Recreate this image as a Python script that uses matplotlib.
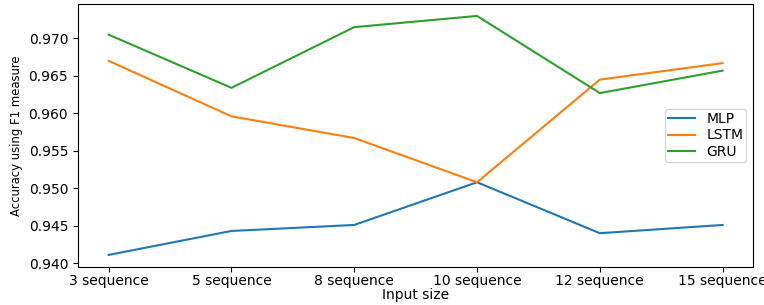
import matplotlib
matplotlib.use('Agg')
import matplotlib.pyplot as plt

# Input sizes on the x axis
sequences = ['3 sequence', '5 sequence', '8 sequence', '10 sequence', '12 sequence', '15 sequence']

# F1 accuracy for each model
mlp = [0.9411, 0.9443, 0.9451, 0.9508, 0.9440, 0.9451]
lstm = [0.9670, 0.9596, 0.9567, 0.9508, 0.9645, 0.9667]
gru = [0.9705, 0.9634, 0.9715, 0.9730, 0.9627, 0.9657]

fig, ax = plt.subplots(figsize=(7.64, 3.05), dpi=100)
ax.plot(sequences, mlp, label='MLP')
ax.plot(sequences, lstm, label='LSTM')
ax.plot(sequences, gru, label='GRU')
ax.set_xlabel('Input size', labelpad=0)
ax.set_ylabel('Accuracy using F1 measure', fontsize=8.4)
ax.tick_params(axis='x', pad=1.5)
ax.legend(loc='center right', labelspacing=0.18, borderpad=0.2)

fig.subplots_adjust(left=0.102, right=0.986, top=0.987, bottom=0.125)
plt.savefig('out.png')
